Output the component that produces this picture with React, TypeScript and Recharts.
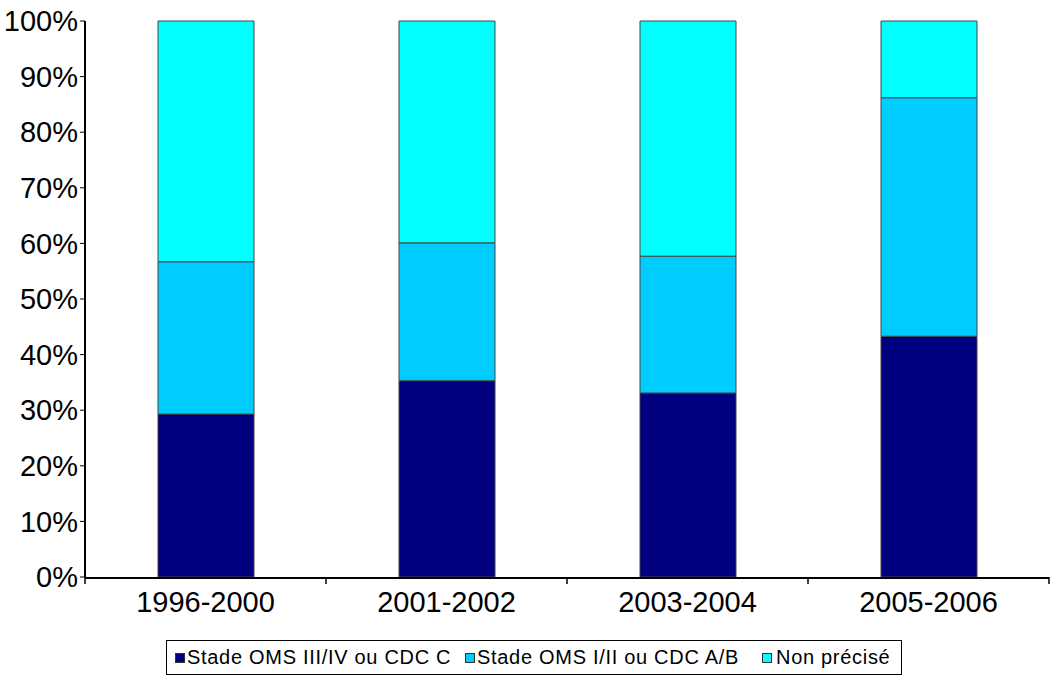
import { Bar, BarChart, XAxis, YAxis } from "recharts";

const periods = ["1996-2000", "2001-2002", "2003-2004", "2005-2006"];
const stadeAvance = [29.3, 35.3, 33.1, 43.3];
const stadePrecoce = [27.4, 24.8, 24.6, 42.9];
const nonPrecise = [43.3, 39.9, 42.3, 13.8];
const yTicks = [0, 10, 20, 30, 40, 50, 60, 70, 80, 90, 100];
const separators = [0, 1, 2, 3, 4];

const series = [
  { key: "avance", name: "Stade OMS III/IV ou CDC C", color: "#000080" },
  { key: "precoce", name: "Stade OMS I/II ou CDC A/B", color: "#00CCFF" },
  { key: "np", name: "Non précisé", color: "#00FFFF" },
];

const data = periods.map((p, i) => ({
  period: p,
  idx: i + 0.5,
  avance: stadeAvance[i],
  precoce: stadePrecoce[i],
  np: nonPrecise[i],
}));

const font = "'Liberation Sans', Arial, sans-serif";

// legend item positions (left edge of the swatch)
const legendX = [175, 465, 762];

const LegendBox = () => (
  <div
    style={{
      position: "absolute",
      left: 166,
      top: 640,
      width: 736,
      height: 35,
      border: "1px solid #000",
      boxSizing: "border-box",
      fontFamily: font,
      fontSize: 20,
      letterSpacing: 0.7,
      color: "#000",
    }}
  >
    {series.map((s, i) => (
      <div
        key={s.key}
        style={{
          position: "absolute",
          left: legendX[i] - 167,
          top: 0,
          height: 33,
          display: "flex",
          alignItems: "center",
          whiteSpace: "nowrap",
        }}
      >
        <span
          style={{
            width: 8,
            height: 8,
            background: s.color,
            border: "1px solid #333",
            marginRight: i === 2 ? 4 : 2,
            display: "inline-block",
          }}
        />
        {s.name}
      </div>
    ))}
  </div>
);

export default function App() {
  return (
    <div style={{ position: "absolute", left: 0, top: 0, width: 1050, height: 677, background: "#fff" }}>
      <BarChart
        width={1050}
        height={677}
        data={data}
        margin={{ top: 21, right: 1, bottom: 60, left: 0 }}
        barSize={96}
      >
        <XAxis
          xAxisId="a"
          type="number"
          dataKey="idx"
          domain={[0, 4]}
          ticks={separators}
          axisLine={false}
          tickLine={{ stroke: "#000", strokeWidth: 1.5 }}
          tickSize={7}
          tick={{ fontSize: 0 }}
          tickFormatter={() => ""}
          height={1}
        />
        <XAxis
          xAxisId="b"
          dataKey="period"
          axisLine={{ stroke: "#000", strokeWidth: 2 }}
          tickLine={false}
          tick={{ fill: "#000", fontSize: 29, fontFamily: font }}
          tickMargin={7}
          height={39}
        />
        <YAxis
          domain={[0, 100]}
          ticks={yTicks}
          tickFormatter={(v) => `${v}%`}
          axisLine={{ stroke: "#000", strokeWidth: 2 }}
          tickLine={{ stroke: "#000" }}
          tickSize={5}
          tickMargin={2}
          tick={{ fill: "#000", fontSize: 29, fontFamily: font }}
          width={85}
          interval={0}
        />
        {series.map((s) => (
          <Bar
            key={s.key}
            xAxisId="b"
            dataKey={s.key}
            name={s.name}
            stackId="a"
            fill={s.color}
            stroke="#444"
            strokeWidth={1}
            isAnimationActive={false}
          />
        ))}
      </BarChart>
      <LegendBox />
    </div>
  );
}
